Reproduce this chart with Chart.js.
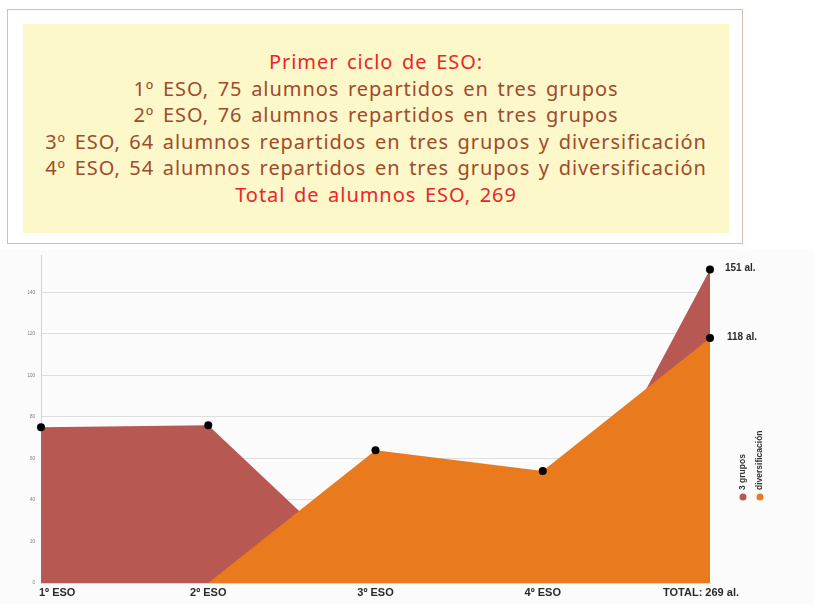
<!DOCTYPE html>
<html>
<head>
<meta charset="utf-8">
<script src="https://cdn.jsdelivr.net/npm/chart.js@4"></script>
<style>
  body { margin: 0; background: #fff; width: 814px; height: 604px; position: relative; overflow: hidden; }
  #box { position: absolute; left: 7px; top: 9px; width: 736px; height: 235px; border: 1px solid #dcbcaa; box-sizing: border-box; background: #fff; }
  #inner { position: absolute; left: 15px; top: 14px; width: 706px; height: 209px; background: #fdf8c9; }
  #txt { position: absolute; left: 0; top: 25px; width: 100%; text-align: center;
         font-family: "Noto Sans", sans-serif; font-size: 20px; line-height: 26.6px; color: #a04a2c; white-space: nowrap;
         letter-spacing: 0.95px; word-spacing: 2.5px; }
  #txt .r { color: #e8262c; }
  #wrap { position: absolute; left: 0; top: 250px; width: 814px; height: 354px; background: #fbfbfb; }
</style>
</head>
<body>
<div id="box"><div id="inner"><div id="txt"></div></div></div>
<div id="wrap"><canvas id="chart" width="814" height="354"></canvas></div>
<script>
var headLines = [
  ['r', 'Primer ciclo de ESO:'],
  ['b', '1º ESO, 75 alumnos repartidos en tres grupos'],
  ['b', '2º ESO, 76 alumnos repartidos en tres grupos'],
  ['b', '3º ESO, 64 alumnos repartidos en tres grupos y diversificación'],
  ['b', '4º ESO, 54 alumnos repartidos en tres grupos y diversificación'],
  ['r', 'Total de alumnos ESO, 269']
];

var categories = ['1º ESO', '2º ESO', '3º ESO', '4º ESO', 'TOTAL: 269 al.'];
var tresGrupos = [75, 76, 0, 0, 151];
var diversificacion = [0, 0, 64, 54, 118];
var seriesNames = ['3 grupos', 'diversificación'];
var endLabels = ['151 al.', '118 al.'];

var txt = document.getElementById('txt');
headLines.forEach(function (l) {
  var d = document.createElement('div');
  if (l[0] == 'r') d.className = 'r';
  d.textContent = l[1];
  txt.appendChild(d);
});

var red = '#b75853';
var orange = '#e97a1e';

function radii(arr) { return arr.map(function (v) { return v > 0 ? 4 : 0; }); }

var extras = {
  id: 'extras',
  afterDraw: function (chart) {
    var c = chart.ctx, xs = chart.scales.x, ys = chart.scales.y;
    c.save();
    // x labels
    c.fillStyle = '#2a2a2a';
    c.font = 'bold 11px "Liberation Sans", Arial, sans-serif';
    c.textBaseline = 'middle';
    categories.forEach(function (lab, i) {
      var x = xs.getPixelForValue(i);
      c.textAlign = i == 0 ? 'left' : 'center';
      c.fillText(lab, i == 0 ? x - 2 : x - (i == categories.length - 1 ? 9 : 0), ys.bottom + 10);
    });
    // end labels
    var last = categories.length - 1;
    c.font = 'bold 10px "Liberation Sans", Arial, sans-serif';
    c.textAlign = 'left';
    c.fillText(endLabels[0], xs.getPixelForValue(last) + 15, ys.getPixelForValue(tresGrupos[last]) - 1);
    c.fillText(endLabels[1], xs.getPixelForValue(last) + 17, ys.getPixelForValue(diversificacion[last]) - 1);
    // legend (rotated)
    var cols = [red, orange];
    var lx = [743, 760];
    seriesNames.forEach(function (n, i) {
      c.save();
      c.translate(lx[i], 240);
      c.rotate(-Math.PI / 2);
      c.font = 'bold 8.5px "Liberation Sans", Arial, sans-serif';
      c.fillStyle = '#333';
      c.textAlign = 'left';
      c.textBaseline = 'middle';
      c.fillText(n, 0, 0);
      c.restore();
      c.beginPath();
      c.fillStyle = cols[i];
      c.arc(lx[i], 247, 3.5, 0, Math.PI * 2);
      c.fill();
    });
    c.restore();
  }
};

new Chart(document.getElementById('chart'), {
  type: 'line',
  data: {
    labels: categories,
    datasets: [{
      label: seriesNames[0],
      data: tresGrupos,
      order: 1,
      fill: 'origin',
      backgroundColor: red,
      borderWidth: 0,
      tension: 0,
      pointRadius: radii(tresGrupos),
      pointBackgroundColor: '#000',
      pointBorderWidth: 0
    }, {
      label: seriesNames[1],
      data: diversificacion,
      order: 0,
      fill: 'origin',
      backgroundColor: orange,
      borderWidth: 0,
      tension: 0,
      pointRadius: radii(diversificacion),
      pointBackgroundColor: '#000',
      pointBorderWidth: 0
    }]
  },
  options: {
    responsive: false,
    animation: false,
    devicePixelRatio: 1,
    layout: { padding: { top: 5, right: 104, left: 0, bottom: 0 } },
    plugins: { legend: { display: false }, tooltip: { enabled: false } },
    scales: {
      x: {
        offset: false,
        grid: { display: false, drawTicks: false },
        border: { color: '#d8d8d8' },
        ticks: { display: false },
        afterFit: function (s) { s.height = 21; }
      },
      y: {
        min: 0, max: 158,
        grid: {
          drawTicks: false,
          color: function (ctx) { return ctx.tick && ctx.tick.value % 20 === 0 ? '#dedede' : 'rgba(0,0,0,0)'; }
        },
        border: { color: '#d0d0d0' },
        ticks: {
          stepSize: 20, padding: 6, color: '#777',
          font: { size: 4.5, family: 'Liberation Sans' },
          callback: function (v) { return v % 20 === 0 ? v : ''; }
        },
        afterFit: function (s) { s.width = 41; s.paddingTop = 0; s.paddingBottom = 0; }
      }
    }
  },
  plugins: [extras]
});
</script>
</body>
</html>
